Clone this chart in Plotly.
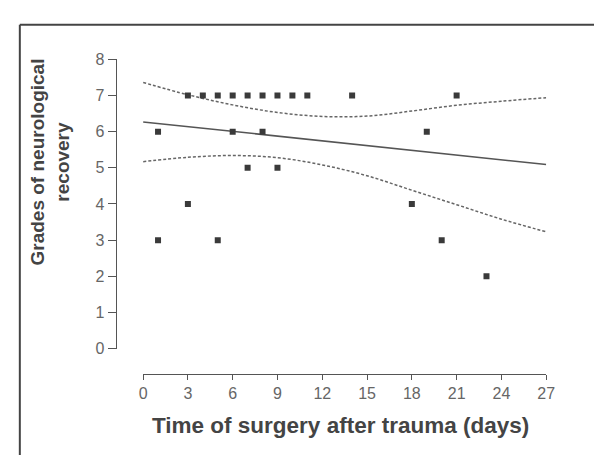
import plotly.graph_objects as go

# Data
days = [1, 1, 3, 3, 4, 5, 5, 6, 6, 7, 7, 8, 8, 9, 9, 10, 11, 14, 18, 19, 20, 21, 23]
grades = [6, 3, 7, 4, 7, 7, 3, 7, 6, 7, 5, 7, 6, 7, 5, 7, 7, 7, 4, 6, 3, 7, 2]

fit_x = [0, 27]
fit_y = [6.27, 5.09]

band_x = [0, 3, 6, 9, 12, 15, 18, 21, 24, 27]
upper_y = [7.36, 7.02, 6.74, 6.53, 6.42, 6.43, 6.57, 6.73, 6.84, 6.94]
lower_y = [5.17, 5.29, 5.34, 5.28, 5.08, 4.78, 4.38, 3.98, 3.58, 3.23]

x_ticks = [0, 3, 6, 9, 12, 15, 18, 21, 24, 27]
y_ticks = [0, 1, 2, 3, 4, 5, 6, 7, 8]

W, H = 602, 456
def px(x): return x / W
def py(y): return 1 - y / H

fig = go.Figure()
fig.add_trace(go.Scatter(x=band_x, y=upper_y, mode="lines", line=dict(color="#666", width=1.5, dash="3px,2px", shape="spline"), hoverinfo="skip"))
fig.add_trace(go.Scatter(x=band_x, y=lower_y, mode="lines", line=dict(color="#666", width=1.5, dash="3px,2px", shape="spline"), hoverinfo="skip"))
fig.add_trace(go.Scatter(x=fit_x, y=fit_y, mode="lines", line=dict(color="#555", width=1.5)))
fig.add_trace(go.Scatter(x=days, y=grades, mode="markers", marker=dict(symbol="square", size=6, color="#3a3a3a")))

tickfont = dict(family="Liberation Sans, Arial, sans-serif", size=16, color="#666")
fig.update_layout(
    width=W, height=H,
    margin=dict(l=0, r=0, t=0, b=0),
    paper_bgcolor="white", plot_bgcolor="white",
    showlegend=False,
    xaxis=dict(domain=[px(134), px(546)], range=[0, 27], anchor="free", position=py(372),
               tickvals=x_ticks, ticks="outside", ticklen=5, tickcolor="#555", tickwidth=1,
               showline=True, linecolor="#555", linewidth=1, showgrid=False, zeroline=False,
               tickfont=tickfont),
    yaxis=dict(domain=[py(345.5), py(45)], range=[0, 8], anchor="free", position=px(106),
               tickvals=y_ticks, ticks="outside", ticklen=8, tickcolor="#555", tickwidth=1,
               showline=True, linecolor="#555", linewidth=1, showgrid=False, zeroline=False,
               tickfont=tickfont),
    annotations=[
        dict(text="<b>Time of surgery after trauma (days)</b>", x=px(336), y=py(425),
             xref="paper", yref="paper", showarrow=False, xanchor="center", yanchor="middle",
             font=dict(family="Liberation Sans, Arial, sans-serif", size=22.5, color="#444")),
        dict(text="<b>Grades of neurological<br>recovery</b>", x=px(39), y=py(152),
             xref="paper", yref="paper", showarrow=False, xanchor="center", yanchor="middle",
             textangle=-90,
             font=dict(family="Liberation Sans, Arial, sans-serif", size=19, color="#444")),
    ],
    shapes=[
        dict(type="line", xref="paper", yref="paper", x0=px(8), x1=1, y0=py(9), y1=py(9),
             line=dict(color="#444", width=2)),
        dict(type="line", xref="paper", yref="paper", x0=px(8), x1=px(8), y0=py(9), y1=0,
             line=dict(color="#444", width=2)),
    ],
)
fig.write_html("out.html")
